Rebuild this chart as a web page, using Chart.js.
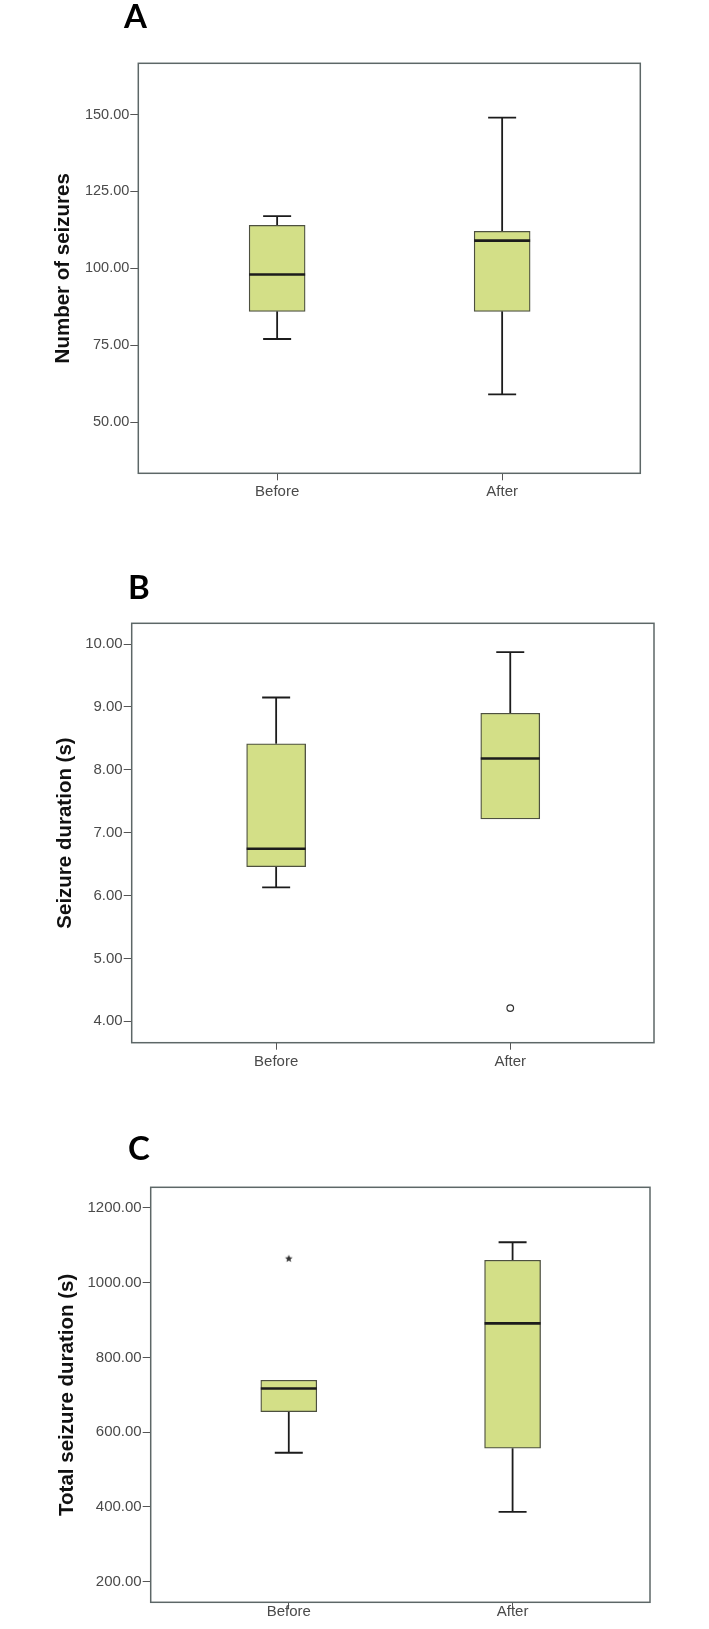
<!DOCTYPE html>
<html>
<head>
<meta charset="utf-8">
<script src="https://cdn.jsdelivr.net/npm/chart.js@4.4.0/dist/chart.umd.min.js"></script>
<style>
  html, body { margin: 0; padding: 0; background: #fff; }
  #wrap { position: relative; width: 709px; height: 1629px; }
  canvas { position: absolute; left: 0; }
</style>
</head>
<body>
<div id="wrap">
  <canvas id="chartA" width="709" height="540" style="top:0px"></canvas>
  <canvas id="chartB" width="709" height="540" style="top:540px"></canvas>
  <canvas id="chartC" width="709" height="549" style="top:1080px"></canvas>
</div>
<script>
const groups = ['Before', 'After'];

// A - number of seizures
const seizuresMin = [77, 59];
const seizuresQ1 = [86, 86];
const seizuresMedian = [98, 109];
const seizuresQ3 = [114, 112];
const seizuresMax = [117, 149];
const seizuresTicks = [50, 75, 100, 125, 150];

// B - seizure duration (s)
const durationMin = [6.13, 7.22];
const durationQ1 = [6.46, 7.22];
const durationMedian = [6.745, 8.18];
const durationQ3 = [8.415, 8.90];
const durationMax = [9.15, 9.87];
const durationOutlierGroup = [1];
const durationOutlierValue = [4.21];
const durationTicks = [4, 5, 6, 7, 8, 9, 10];

// C - total seizure duration (s)
const totalMin = [545, 387];
const totalQ1 = [655, 557];
const totalMedian = [717, 891];
const totalQ3 = [739, 1060];
const totalMax = [739, 1108];
const totalExtremeGroup = [0];
const totalExtremeValue = [1064];
const totalTicks = [200, 400, 600, 800, 1000, 1200];

const boxFill = '#d3df87';
const boxEdge = '#4d5040';
const inkColor = '#1c1c1c';
const frameColor = '#5d6767';
const tickColor = '#4a4a4a';

function starMark(r, color) {
    const c = document.createElement('canvas');
    c.width = c.height = r * 2 + 2;
    const g = c.getContext('2d');
    g.fillStyle = color;
    g.beginPath();
    for (let k = 0; k < 10; k++) {
        const rad = k % 2 ? r * 0.45 : r;
        const a = -Math.PI / 2 + k * Math.PI / 5;
        const px = c.width / 2 + rad * Math.cos(a);
        const py = c.height / 2 + rad * Math.sin(a);
        if (k) g.lineTo(px, py); else g.moveTo(px, py);
    }
    g.closePath();
    g.fill();
    return c;
}

// whiskers, caps and medians, placed with the chart's own scales
function whiskerPlugin(stats, capHalf, boxHalf) {
    return {
        id: 'whiskers',
        beforeDatasetsDraw(chart) {
            const { ctx, scales: { x, y } } = chart;
            ctx.save();
            ctx.strokeStyle = inkColor;
            ctx.lineWidth = 1.8;
            ctx.beginPath();
            groups.forEach((g, i) => {
                const cx = x.getPixelForValue(i);
                if (stats.max[i] > stats.q3[i]) {
                    const yMax = y.getPixelForValue(stats.max[i]);
                    ctx.moveTo(cx, y.getPixelForValue(stats.q3[i]));
                    ctx.lineTo(cx, yMax);
                    ctx.moveTo(cx - capHalf, yMax);
                    ctx.lineTo(cx + capHalf, yMax);
                }
                if (stats.min[i] < stats.q1[i]) {
                    const yMin = y.getPixelForValue(stats.min[i]);
                    ctx.moveTo(cx, y.getPixelForValue(stats.q1[i]));
                    ctx.lineTo(cx, yMin);
                    ctx.moveTo(cx - capHalf, yMin);
                    ctx.lineTo(cx + capHalf, yMin);
                }
            });
            ctx.stroke();
            ctx.restore();
        },
        afterDatasetsDraw(chart) {
            const { ctx, scales: { x, y } } = chart;
            ctx.save();
            ctx.strokeStyle = inkColor;
            ctx.lineWidth = 2.6;
            ctx.beginPath();
            groups.forEach((g, i) => {
                const cx = x.getPixelForValue(i);
                const ym = y.getPixelForValue(stats.median[i]);
                ctx.moveTo(cx - boxHalf, ym);
                ctx.lineTo(cx + boxHalf, ym);
            });
            ctx.stroke();
            ctx.restore();
        }
    };
}

const framePlugin = {
    id: 'frame',
    afterDraw(chart) {
        const { ctx, chartArea: a } = chart;
        ctx.save();
        ctx.strokeStyle = frameColor;
        ctx.lineWidth = 1.5;
        ctx.strokeRect(a.left, a.top, a.right - a.left, a.bottom - a.top);
        ctx.restore();
    }
};

function letterPlugin(letter, x, y) {
    return {
        id: 'letter',
        afterDraw(chart) {
            const ctx = chart.ctx;
            ctx.save();
            ctx.fillStyle = '#000';
            ctx.font = 'bold 33px Lato, "Open Sans", sans-serif';
            ctx.textBaseline = 'alphabetic';
            ctx.fillText(letter, x, y);
            ctx.restore();
        }
    };
}

function makeBoxChart(id, p) {
    const datasets = [{
        type: 'bar',
        data: groups.map((g, i) => ({ x: i, y: [p.stats.q1[i], p.stats.q3[i]] })),
        backgroundColor: boxFill,
        borderColor: boxEdge,
        borderWidth: 1.3,
        borderSkipped: false,
        barThickness: p.boxHalf * 2
    }];
    if (p.outGroup) {
        datasets.push({
            type: 'scatter',
            data: p.outGroup.map((g, i) => ({ x: g, y: p.outValue[i] })),
            pointStyle: p.outStyle,
            pointRadius: 3.3,
            pointBorderWidth: 1.2,
            pointBorderColor: '#333',
            pointBackgroundColor: '#fff'
        });
    }
    return new Chart(document.getElementById(id), {
        type: 'bar',
        data: { datasets },
        options: {
            responsive: false,
            animation: false,
            layout: { padding: p.padding },
            plugins: { legend: { display: false }, tooltip: { enabled: false } },
            scales: {
                x: {
                    type: 'linear',
                    offset: false,
                    min: -0.617,
                    max: 1.614,
                    afterBuildTicks: s => { s.ticks = groups.map((g, i) => ({ value: i })); },
                    afterFit: s => { s.height = p.xHeight; },
                    grid: { offset: false, drawOnChartArea: false, drawTicks: true, tickLength: 7, color: '#555', lineWidth: 1 },
                    border: { display: false },
                    ticks: {
                        callback: v => groups[v],
                        color: tickColor,
                        padding: p.xPad,
                        maxRotation: 0,
                        font: { family: '"Liberation Sans", Arial, sans-serif', size: 15 }
                    }
                },
                y: {
                    type: 'linear',
                    min: p.yMin,
                    max: p.yMax,
                    afterBuildTicks: s => { s.ticks = p.ticks.map(v => ({ value: v })); },
                    afterFit: s => { s.width = p.yWidth; },
                    grid: { drawOnChartArea: false, drawTicks: true, tickLength: 8, color: '#555', lineWidth: 1 },
                    border: { display: false },
                    ticks: {
                        callback: v => v.toFixed(2),
                        color: tickColor,
                        padding: 1,
                        font: { family: '"Liberation Sans", Arial, sans-serif', size: p.tickSize }
                    },
                    title: {
                        display: true,
                        text: p.title,
                        color: '#111',
                        padding: { top: p.titlePad, bottom: 0 },
                        font: { family: '"Liberation Sans", Arial, sans-serif', size: 20.5, weight: 'bold' }
                    }
                }
            }
        },
        plugins: [whiskerPlugin(p.stats, 14, p.boxHalf), framePlugin, letterPlugin(p.letter, p.letterX, p.letterY)]
    });
}

makeBoxChart('chartA', {
    stats: { min: seizuresMin, q1: seizuresQ1, median: seizuresMedian, q3: seizuresQ3, max: seizuresMax },
    ticks: seizuresTicks, yMin: 33.33, yMax: 166.67, tickSize: 14.5,
    title: 'Number of seizures', titlePad: 51.2,
    padding: { top: 63.3, right: 68.7, bottom: 26.7, left: 0 },
    yWidth: 138.3, xHeight: 40, xPad: 2.7, boxHalf: 28,
    letter: 'A', letterX: 124, letterY: 28
});

makeBoxChart('chartB', {
    stats: { min: durationMin, q1: durationQ1, median: durationMedian, q3: durationQ3, max: durationMax },
    ticks: durationTicks, yMin: 3.66, yMax: 10.33, tickSize: 15,
    title: 'Seizure duration (s)', titlePad: 52.7,
    padding: { top: 83.3, right: 55, bottom: 0, left: 0 },
    yWidth: 131.7, xHeight: 37.3, xPad: 2.7, boxHalf: 29.5,
    outGroup: durationOutlierGroup, outValue: durationOutlierValue, outStyle: 'circle',
    letter: 'B', letterX: 128, letterY: 59
});

makeBoxChart('chartC', {
    stats: { min: totalMin, q1: totalQ1, median: totalMedian, q3: totalQ3, max: totalMax },
    ticks: totalTicks, yMin: 145, yMax: 1255, tickSize: 15,
    title: 'Total seizure duration (s)', titlePad: 54.7,
    padding: { top: 107.3, right: 59, bottom: 0, left: 0 },
    yWidth: 150.7, xHeight: 26.7, xPad: -6, boxHalf: 28,
    outGroup: totalExtremeGroup, outValue: totalExtremeValue, outStyle: starMark(4, '#333'),
    letter: 'C', letterX: 128, letterY: 80
});
</script>
</body>
</html>
